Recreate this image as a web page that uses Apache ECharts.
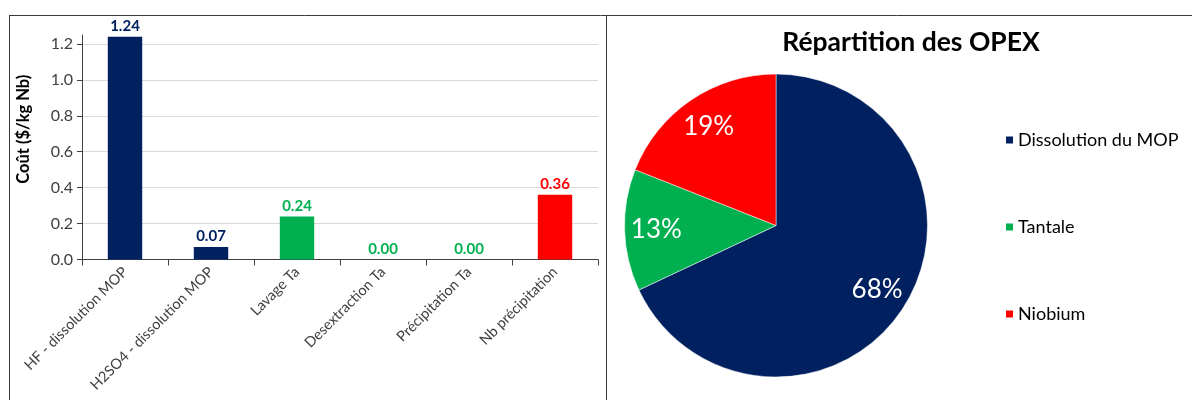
<!DOCTYPE html>
<html>
<head>
<meta charset="utf-8">
<script src="https://cdn.jsdelivr.net/npm/echarts@6/dist/echarts.min.js"></script>
<style>
  html, body { margin: 0; padding: 0; background: #fff; }
  #chart_box { width: 1192px; height: 400px; }
</style>
</head>
<body>
<div id="chart_box"></div>
<script>
// données
let etapes = ['HF - dissolution MOP', 'H2SO4 - dissolution MOP', 'Lavage Ta', 'Desextraction Ta', 'Précipitation Ta', 'Nb précipitation'];
let couts = [1.24, 0.07, 0.24, 0.00, 0.00, 0.36];
let groupeEtape = ['mop', 'mop', 'ta', 'ta', 'ta', 'nb'];

let postes = ['Dissolution du MOP', 'Tantale', 'Niobium'];
let parts = [68, 13, 19];

let couleurs = {
    mop: '#002060',
    ta: '#00B050',
    nb: '#FF0000'
};
let couleursPostes = ['#002060', '#00B050', '#FF0000'];

let police = 'Lato, "Noto Sans", sans-serif';

let myChart = echarts.init(document.getElementById('chart_box'), null, {renderer: 'canvas'});

let barData = couts.map(function (v, i) {
    let c = couleurs[groupeEtape[i]];
    return {
        value: v,
        itemStyle: {color: c},
        label: {color: c}
    };
});

let pieData = postes.map(function (nom, i) {
    return {
        name: nom,
        value: parts[i],
        itemStyle: {color: couleursPostes[i]}
    };
});

let myOption = {
    backgroundColor: '#fff',
    animation: false,
    textStyle: {fontFamily: police},
    title: {
        text: 'Répartition des OPEX',
        left: 906,
        top: 24,
        textAlign: 'center',
        textStyle: {
            fontFamily: police,
            fontSize: 26.5,
            fontWeight: 'bold',
            color: '#000'
        }
    },
    legend: {
        data: postes,
        orient: 'vertical',
        left: 999,
        top: 126,
        itemGap: 69,
        itemWidth: 9,
        itemHeight: 9,
        icon: 'rect',
        textStyle: {
            fontFamily: police,
            fontSize: 18,
            color: '#000',
            padding: [0, 0, 0, -1]
        }
    },
    grid: {
        left: 82,
        right: 594,
        top: 35,
        bottom: 140.5
    },
    xAxis: {
        type: 'category',
        data: etapes,
        axisLine: {lineStyle: {color: '#404040', width: 1}},
        axisTick: {show: true, length: 6, lineStyle: {color: '#404040'}},
        axisLabel: {
            rotate: 45,
            interval: 0,
            margin: 10,
            fontFamily: police,
            fontSize: 14.5,
            color: '#404040'
        }
    },
    yAxis: {
        type: 'value',
        min: 0,
        max: 1.25,
        interval: 0.2,
        name: 'Coût ($/kg Nb)',
        nameLocation: 'middle',
        nameGap: 50,
        nameTextStyle: {
            fontFamily: police,
            fontSize: 16.5,
            fontWeight: 'bold',
            color: '#000',
            padding: [0, 0, 0, 36]
        },
        axisLine: {show: true, lineStyle: {color: '#404040', width: 1}},
        axisTick: {show: true, length: 5, lineStyle: {color: '#404040'}},
        axisLabel: {
            showMaxLabel: false,
            margin: 9,
            fontFamily: police,
            fontSize: 16,
            color: '#404040',
            formatter: function (v) {
                return v.toFixed(1);
            }
        },
        splitLine: {
            show: true,
            lineStyle: {
                color: ['#d9d9d9', '#d9d9d9', '#d9d9d9', '#d9d9d9', '#d9d9d9', '#d9d9d9', '#d9d9d9', 'rgba(0,0,0,0)'],
                width: 1
            }
        }
    },
    graphic: [
        {type: 'line', shape: {x1: 9, y1: 15.5, x2: 1192, y2: 15.5}, style: {stroke: '#3a3a3a', lineWidth: 1}, z: 100},
        {type: 'line', shape: {x1: 9.5, y1: 15, x2: 9.5, y2: 400}, style: {stroke: '#3a3a3a', lineWidth: 1}, z: 100},
        {type: 'line', shape: {x1: 606.5, y1: 15, x2: 606.5, y2: 400}, style: {stroke: '#3a3a3a', lineWidth: 1}, z: 100}
    ],
    series: [
        {
            name: 'Coût',
            type: 'bar',
            barWidth: '40%',
            data: barData,
            label: {
                show: true,
                position: 'top',
                distance: 3,
                fontFamily: police,
                fontSize: 15,
                fontWeight: 'bold',
                formatter: function (p) {
                    return p.value.toFixed(2);
                }
            }
        },
        {
            name: 'OPEX',
            type: 'pie',
            center: [776, 225.5],
            radius: [0, 151.5],
            startAngle: 90,
            clockwise: true,
            label: {show: false},
            labelLine: {show: false},
            itemStyle: {borderColor: '#fff', borderWidth: 0.5},
            data: pieData
        },
        {
            // anneau invisible qui ne sert qu'à placer les pourcentages
            name: 'OPEX %',
            type: 'pie',
            silent: true,
            center: [776, 225.5],
            radius: [82, 151.5],
            startAngle: 90,
            clockwise: true,
            legendHoverLink: false,
            itemStyle: {color: 'rgba(0,0,0,0)'},
            labelLine: {show: false},
            label: {
                show: true,
                position: 'inside',
                fontFamily: police,
                fontSize: 26,
                color: '#fff',
                formatter: '{c}%'
            },
            data: postes.map(function (nom, i) {
                return {name: nom, value: parts[i]};
            })
        }
    ]
};

myChart.setOption(myOption);
</script>
</body>
</html>
